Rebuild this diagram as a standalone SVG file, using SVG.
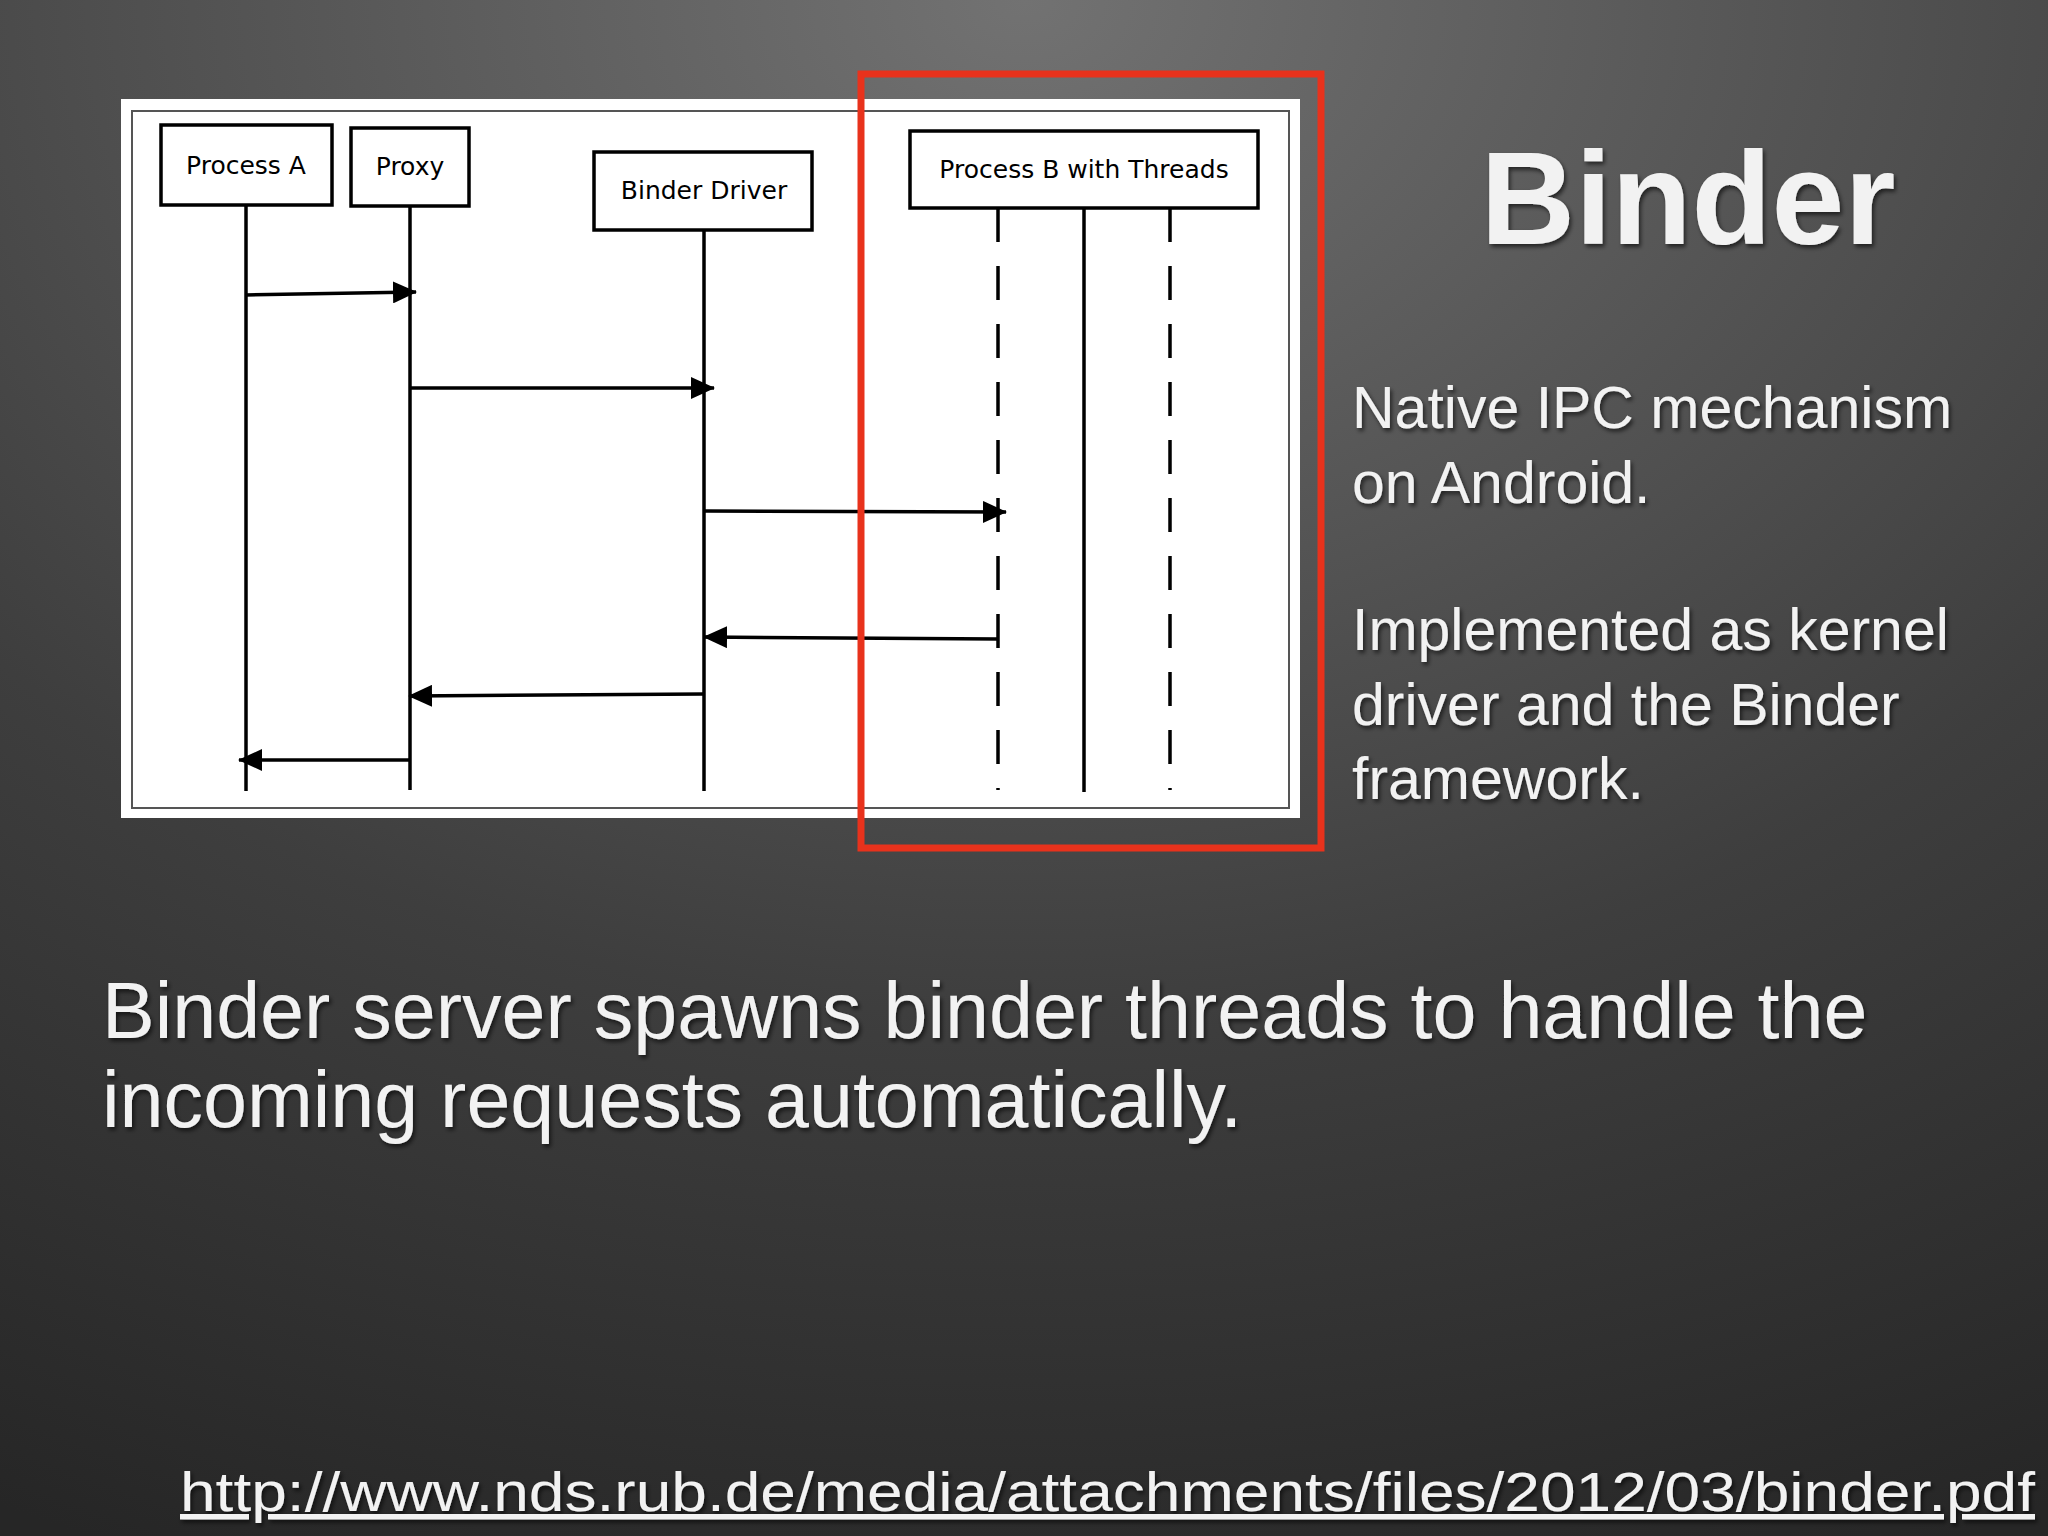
<svg xmlns="http://www.w3.org/2000/svg" width="2048" height="1536" viewBox="0 0 2048 1536">
<defs>
<radialGradient id="bg" cx="50%" cy="0%" r="110%">
<stop offset="0" stop-color="#727272"/><stop offset="0.6" stop-color="#3e3e3e"/><stop offset="1" stop-color="#262626"/>
</radialGradient>
<marker id="ah" markerWidth="24" markerHeight="22" refX="23" refY="11" orient="auto" markerUnits="userSpaceOnUse" viewBox="0 0 24 22">
<path d="M0,0 L24,11 L0,22 z" fill="#000"/>
</marker>
<filter id="sh"><feDropShadow dx="2" dy="3" stdDeviation="2" flood-color="#000" flood-opacity="0.6"/></filter>
</defs>
<style>
.box{fill:#fff;stroke:#000;stroke-width:3.5}
.lbl{font-family:"DejaVu Sans",sans-serif;font-size:25px;fill:#000;text-anchor:middle}
.life{stroke:#000;stroke-width:3.5}
.dash{stroke:#000;stroke-width:3.5;stroke-dasharray:34,24}
.msg{stroke:#000;stroke-width:3.5;fill:none}
.t{font-family:"Liberation Sans",Arial,sans-serif;fill:#f2f2f2;filter:url(#sh)}
</style>
<rect width="2048" height="1536" fill="url(#bg)"/>
<rect x="121" y="99" width="1179" height="719" fill="#fff"/>
<rect x="132" y="111" width="1157" height="697" fill="none" stroke="#555" stroke-width="2"/>
<g id="processA"><rect class="box" x="161" y="125" width="171" height="80"/><text class="lbl" x="246" y="174">Process A</text></g>
<g id="proxy"><rect class="box" x="351" y="128" width="118" height="78"/><text class="lbl" x="410" y="175">Proxy</text></g>
<g id="binderDriver"><rect class="box" x="594" y="152" width="218" height="78"/><text class="lbl" x="704" y="199">Binder Driver</text></g>
<g id="processB"><rect class="box" x="910" y="131" width="348" height="77"/><text class="lbl" x="1084" y="178">Process B with Threads</text></g>
<g id="lifelines">
<line class="life" x1="246" y1="205" x2="246" y2="791"/>
<line class="life" x1="410" y1="206" x2="410" y2="790"/>
<line class="life" x1="704" y1="230" x2="704" y2="791"/>
<line class="dash" x1="998" y1="208" x2="998" y2="790"/>
<line class="life" x1="1084" y1="208" x2="1084" y2="792"/>
<line class="dash" x1="1170" y1="208" x2="1170" y2="790"/>
</g>
<g id="connectors">
<line class="msg" x1="246" y1="295" x2="416" y2="292" marker-end="url(#ah)"/>
<line class="msg" x1="410" y1="388" x2="714" y2="388" marker-end="url(#ah)"/>
<line class="msg" x1="704" y1="511" x2="1006" y2="512" marker-end="url(#ah)"/>
<line class="msg" x1="998" y1="639" x2="704" y2="637" marker-end="url(#ah)"/>
<line class="msg" x1="704" y1="694" x2="409" y2="696" marker-end="url(#ah)"/>
<line class="msg" x1="410" y1="760" x2="239" y2="760" marker-end="url(#ah)"/>
</g>
<rect x="861" y="74" width="460" height="774" fill="none" stroke="#e8321c" stroke-width="7"/>
<text class="t" x="1688" y="244" font-size="131" font-weight="bold" text-anchor="middle">Binder</text>
<g class="t" font-size="59">
<text x="1352" y="428">Native IPC mechanism</text>
<text x="1352" y="503">on Android.</text>
<text x="1352" y="650">Implemented as kernel</text>
<text x="1352" y="725">driver and the Binder</text>
<text x="1352" y="799">framework.</text>
</g>
<g class="t" font-size="79">
<text x="102" y="1038">Binder server spawns binder threads to handle the</text>
<text x="102" y="1127">incoming requests automatically.</text>
</g>
<text class="t" x="180" y="1511" font-size="55" text-decoration="underline" textLength="1855" lengthAdjust="spacingAndGlyphs">http://www.nds.rub.de/media/attachments/files/2012/03/binder.pdf</text>
</svg>
